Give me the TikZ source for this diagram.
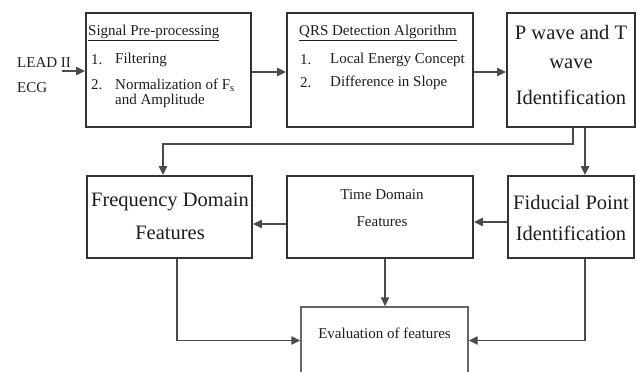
\documentclass[tikz,border=0pt]{standalone}
\usepackage{fontspec}
\setmainfont{Liberation Serif}
\usetikzlibrary{arrows.meta}
\definecolor{boxline}{HTML}{333333}
\definecolor{arrline}{HTML}{4A4A4A}
\definecolor{inktext}{HTML}{1E1E1E}
\tikzset{
  blk/.style={draw=boxline, line width=1.7pt, fill=white, inner sep=0pt},
  txt/.style={inner sep=0pt, text=inktext, font=\fontsize{15}{18}\selectfont},
  bigtxt/.style={inner sep=0pt, text=inktext, font=\fontsize{20.5}{24}\selectfont},
  conn/.style={draw=arrline, line width=1.9pt, -{Triangle[length=9pt,width=8pt]}},
}
\begin{document}
\begin{tikzpicture}[x=1pt,y=-1pt]
\useasboundingbox (0,0) rectangle (637,372);
\fill[white] (0,0) rectangle (637,372);

% boxes
\node[blk, minimum width=165pt, minimum height=114pt] (b1) at (168.5,70) {};
\node[blk, minimum width=186pt, minimum height=114pt] (b2) at (380,70) {};
\node[blk, minimum width=128pt, minimum height=114pt] (b3) at (571,70) {};
\node[blk, minimum width=165pt, minimum height=82pt] (freq) at (169.5,217) {};
\node[blk, minimum width=186pt, minimum height=82pt] (time) at (380,217) {};
\node[blk, minimum width=126pt, minimum height=82pt] (fid) at (571,217) {};
\node[blk, draw=boxline!75, line width=1.2pt, minimum width=167pt, minimum height=67pt] (eval) at (384.5,340.5) {};

% input label
\node[txt, anchor=west] (lead1) at (17,63) {LEAD II};
\node[txt, anchor=west] (lead2) at (17,88) {ECG};
\coordinate (leadout) at (62,71);

% box 1 text
\node[txt, anchor=west] (b1h) at (88,33) {\underline{Signal Pre-processing}};
\node[txt, anchor=west] (b1n1) at (91,60) {1.};
\node[txt, anchor=west] (b1t1) at (115,60) {Filtering};
\node[txt, anchor=west] (b1n2) at (91,85) {2.};
\node[txt, anchor=west] (b1t2) at (115,85) {Normalization of F\textsubscript{s}};
\node[txt, anchor=west] (b1t3) at (115,101) {and Amplitude};

% box 2 text
\node[txt, anchor=west] (b2h) at (299,33) {\underline{QRS Detection Algorithm}};
\node[txt, anchor=west] (b2n1) at (300,60) {1.};
\node[txt, anchor=west] (b2t1) at (330,60) {Local Energy Concept};
\node[txt, anchor=west] (b2n2) at (300,83) {2.};
\node[txt, anchor=west] (b2t2) at (330,83) {Difference in Slope};

% box 3 text
\node[bigtxt] (b3t1) at (571,32) {P wave and T};
\node[bigtxt] (b3t2) at (571,64) {wave};
\node[bigtxt] (b3t3) at (571,97) {Identification};

% middle row text
\node[bigtxt] (freqt1) at (170,202) {Frequency Domain};
\node[bigtxt] (freqt2) at (170,233) {Features};
\node[txt] (timet1) at (382,195) {Time Domain};
\node[txt] (timet2) at (382,222) {Features};
\node[bigtxt] (fidt1) at (571,202) {Fiducial Point};
\node[bigtxt] (fidt2) at (571,233) {Identification};

% bottom text
\node[txt] (evalt) at (384.5,333) {Evaluation of features};

% connectors
\draw[conn] (leadout) -- (b1.west |- leadout);
\draw[conn] ([yshift=-2pt]b1.east) -- ([yshift=-2pt]b2.west);
\draw[conn] ([yshift=-2pt]b2.east) -- ([yshift=-2pt]b3.west);
\draw[conn] ([xshift=2pt]b3.south) -- ++(0,16) -| ([xshift=-6.5pt]freq.north);
\draw[conn] ([xshift=14pt]b3.south) -- ([xshift=14pt]fid.north);
\draw[conn] ([yshift=-5pt]fid.west) -- ([yshift=-5pt]time.east);
\draw[conn] ([yshift=-7pt]time.west) -- ([yshift=-7pt]freq.east);
\draw[conn] ([xshift=7.5pt]freq.south) |- (eval.west);
\draw[conn] ([xshift=5pt]time.south) -- ([xshift=5pt]time.south |- eval.north);
\draw[conn] ([xshift=14pt]fid.south) |- (eval.east);
\end{tikzpicture}
\end{document}
